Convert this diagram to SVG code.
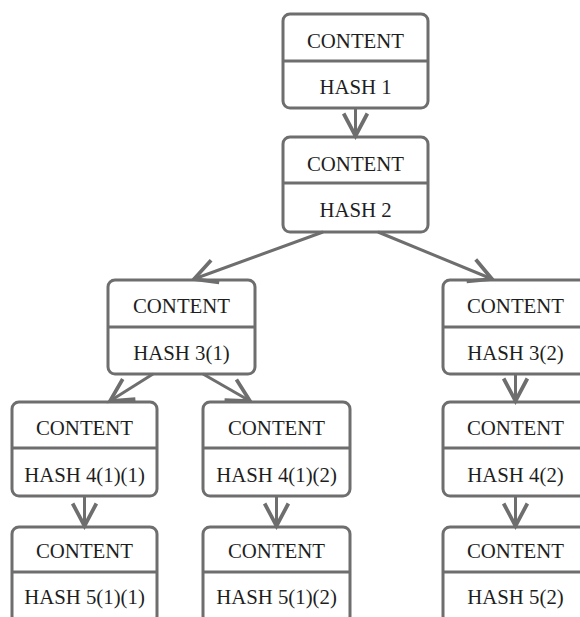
<svg xmlns="http://www.w3.org/2000/svg" width="580" height="617" viewBox="0 0 580 617">
<style>
.box{fill:#fff;stroke:#6e6e6e;stroke-width:3}
.div{stroke:#6e6e6e;stroke-width:3}
.t{font-family:"Liberation Serif","Times New Roman",serif;font-size:20.8px;fill:#1e1e1e;text-anchor:middle}
.c{stroke:#6e6e6e;stroke-width:3;fill:none;marker-end:url(#arr)}
</style>
<defs>
<marker id="arr" markerUnits="userSpaceOnUse" markerWidth="30" markerHeight="30" viewBox="-20 -12 24 24" refX="0" refY="0" orient="auto">
<path d="M-18,-9.5 L0,0 L-18,9.5" fill="none" stroke="#6e6e6e" stroke-width="3" stroke-linejoin="miter"/>
</marker>
</defs>
<rect width="580" height="617" fill="#fff"/>
<g id="n1"><rect class="box" x="283" y="14" width="145" height="94" rx="7"/><line class="div" x1="283" y1="61" x2="428" y2="61"/><text class="t" x="355.5" y="48">CONTENT</text><text class="t" x="355.5" y="94">HASH 1</text></g>
<g id="n2"><rect class="box" x="283" y="137" width="145" height="95" rx="7"/><line class="div" x1="283" y1="183" x2="428" y2="183"/><text class="t" x="355.5" y="171">CONTENT</text><text class="t" x="355.5" y="217">HASH 2</text></g>
<g id="n31"><rect class="box" x="108" y="280" width="147" height="94" rx="7"/><line class="div" x1="108" y1="327" x2="255" y2="327"/><text class="t" x="181.5" y="313">CONTENT</text><text class="t" x="181.5" y="360">HASH 3(1)</text></g>
<g id="n32"><rect class="box" x="443" y="280" width="147" height="94" rx="7"/><line class="div" x1="443" y1="327" x2="590" y2="327"/><text class="t" x="515.5" y="313">CONTENT</text><text class="t" x="515.5" y="360">HASH 3(2)</text></g>
<g id="n411"><rect class="box" x="12" y="402" width="145" height="94" rx="7"/><line class="div" x1="12" y1="448" x2="157" y2="448"/><text class="t" x="84.5" y="435">CONTENT</text><text class="t" x="84.5" y="482">HASH 4(1)(1)</text></g>
<g id="n412"><rect class="box" x="203" y="402" width="147" height="94" rx="7"/><line class="div" x1="203" y1="448" x2="350" y2="448"/><text class="t" x="276.5" y="435">CONTENT</text><text class="t" x="276.5" y="482">HASH 4(1)(2)</text></g>
<g id="n42"><rect class="box" x="443" y="402" width="147" height="94" rx="7"/><line class="div" x1="443" y1="448" x2="590" y2="448"/><text class="t" x="515.5" y="435">CONTENT</text><text class="t" x="515.5" y="482">HASH 4(2)</text></g>
<g id="n511"><rect class="box" x="12" y="527" width="145" height="96" rx="7"/><line class="div" x1="12" y1="572" x2="157" y2="572"/><text class="t" x="84.5" y="558">CONTENT</text><text class="t" x="84.5" y="604">HASH 5(1)(1)</text></g>
<g id="n512"><rect class="box" x="203" y="527" width="147" height="96" rx="7"/><line class="div" x1="203" y1="572" x2="350" y2="572"/><text class="t" x="276.5" y="558">CONTENT</text><text class="t" x="276.5" y="604">HASH 5(1)(2)</text></g>
<g id="n52"><rect class="box" x="443" y="527" width="147" height="96" rx="7"/><line class="div" x1="443" y1="572" x2="590" y2="572"/><text class="t" x="515.5" y="558">CONTENT</text><text class="t" x="515.5" y="604">HASH 5(2)</text></g>
<g id="connectors">
<line class="c" x1="355.5" y1="108" x2="355.5" y2="136"/>
<line class="c" x1="323" y1="232" x2="194" y2="279"/>
<line class="c" x1="378" y1="232" x2="492" y2="279"/>
<line class="c" x1="153" y1="374" x2="110" y2="401"/>
<line class="c" x1="203" y1="374" x2="250" y2="401"/>
<line class="c" x1="84.5" y1="496" x2="84.5" y2="526"/>
<line class="c" x1="276.5" y1="496" x2="276.5" y2="526"/>
<line class="c" x1="515.5" y1="374" x2="515.5" y2="401"/>
<line class="c" x1="515.5" y1="496" x2="515.5" y2="526"/>
</g>
</svg>
